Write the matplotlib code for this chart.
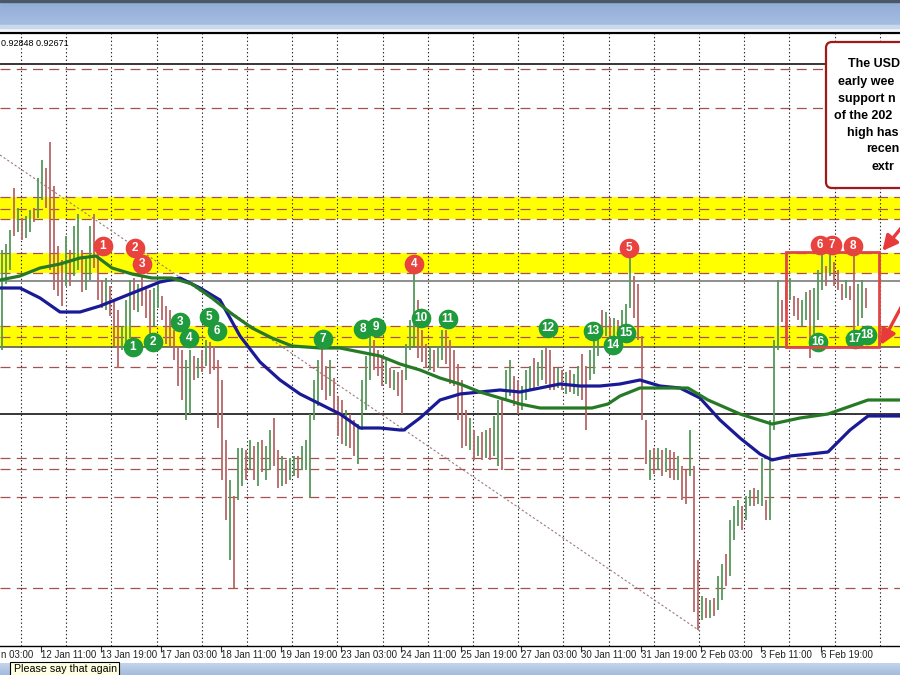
import numpy as np
import matplotlib.pyplot as plt
from matplotlib import transforms
from matplotlib.patches import Rectangle, FancyBboxPatch, FancyArrowPatch

plt.rcParams['font.family'] = ['Liberation Sans', 'DejaVu Sans']

# ---------------------------------------------------------------------------
# Hourly bars (pips); one entry per drawn bar
# ---------------------------------------------------------------------------
bar_high = [
    9295, 9298, 9305, 9326, 9316, 9311, 9312, 9315, 9316, 9331,
    9340, 9336, 9349, 9327, 9297, 9290, 9302, 9295, 9307, 9313,
    9295, 9292, 9307, 9313, 9295, 9280, 9281, 9277, 9270, 9265,
    9257, 9270, 9280, 9281, 9278, 9282, 9277, 9275, 9276, 9278,
    9272, 9267, 9265, 9255, 9247, 9245, 9240, 9245, 9242, 9241,
    9245, 9250, 9249, 9247, 9240, 9230, 9200, 9180, 9172, 9196,
    9196, 9195, 9200, 9197, 9199, 9200, 9197, 9205, 9211, 9195,
    9192, 9190, 9191, 9192, 9192, 9197, 9200, 9213, 9230, 9240,
    9246, 9237, 9240, 9231, 9222, 9220, 9215, 9213, 9210, 9208,
    9230, 9242, 9253, 9250, 9245, 9241, 9240, 9236, 9235, 9234,
    9235, 9248, 9260, 9283, 9270, 9255, 9248, 9246, 9245, 9247,
    9255, 9255, 9250, 9245, 9238, 9230, 9215, 9211, 9205, 9202,
    9204, 9205, 9206, 9212, 9220, 9221, 9235, 9240, 9232, 9230,
    9227, 9235, 9237, 9241, 9239, 9245, 9246, 9245, 9236, 9236,
    9235, 9234, 9235, 9233, 9237, 9243, 9237, 9245, 9251, 9257,
    9265, 9264, 9261, 9261, 9260, 9265, 9268, 9293, 9282, 9278,
    9252, 9210, 9195, 9196, 9196, 9195, 9196, 9195, 9194, 9192,
    9187, 9185, 9205, 9187, 9140, 9122, 9121, 9120, 9121, 9132,
    9138, 9143, 9160, 9167, 9170, 9167, 9172, 9175, 9176, 9175,
    9191, 9170, 9210, 9250, 9280, 9270, 9277, 9281, 9272, 9271,
    9270, 9274, 9275, 9276, 9285, 9296, 9287, 9293, 9289, 9285,
    9278, 9280, 9277, 9296, 9278, 9280, 9276,
]
bar_low = [
    9245, 9278, 9285, 9302, 9304, 9300, 9301, 9304, 9309, 9311,
    9320, 9316, 9285, 9275, 9272, 9267, 9277, 9277, 9282, 9285,
    9274, 9275, 9280, 9286, 9270, 9266, 9265, 9262, 9247, 9236,
    9245, 9247, 9251, 9265, 9264, 9267, 9261, 9252, 9257, 9266,
    9260, 9248, 9247, 9240, 9227, 9220, 9210, 9213, 9230, 9231,
    9234, 9237, 9233, 9235, 9206, 9180, 9160, 9140, 9126, 9170,
    9177, 9180, 9185, 9180, 9177, 9184, 9180, 9185, 9187, 9176,
    9177, 9178, 9180, 9182, 9181, 9185, 9185, 9171, 9210, 9217,
    9225, 9220, 9222, 9215, 9202, 9198, 9197, 9196, 9192, 9188,
    9205, 9215, 9230, 9235, 9232, 9227, 9228, 9226, 9225, 9222,
    9213, 9230, 9245, 9247, 9241, 9239, 9236, 9235, 9234, 9236,
    9240, 9238, 9228, 9227, 9210, 9196, 9197, 9195, 9190, 9192,
    9190, 9191, 9190, 9192, 9187, 9185, 9220, 9222, 9217, 9213,
    9215, 9220, 9225, 9226, 9227, 9230, 9228, 9225, 9225, 9226,
    9225, 9223, 9224, 9223, 9222, 9220, 9205, 9230, 9233, 9242,
    9253, 9252, 9250, 9250, 9249, 9255, 9256, 9266, 9261, 9250,
    9210, 9188, 9180, 9183, 9185, 9182, 9184, 9181, 9180, 9180,
    9170, 9168, 9182, 9114, 9105, 9110, 9111, 9111, 9112, 9115,
    9120, 9127, 9132, 9150, 9157, 9155, 9160, 9167, 9167, 9168,
    9167, 9160, 9160, 9205, 9245, 9259, 9265, 9270, 9262, 9260,
    9257, 9260, 9241, 9253, 9260, 9275, 9277, 9282, 9277, 9275,
    9270, 9271, 9270, 9253, 9257, 9261, 9266,
]
# u = up bar (green), d = down bar (red)
bar_dir = ("uuududuudu uddddduduu duuddduddd uuududdduu dddddduudu "
           "dudddddudu udududuudd uduuduuuuu dduddduddu uuudddudud "
           "duuudddudu uddddddudu duduuduudd uuuduudddu duduudduuu "
           "dududuuudd ddudududdu dduddududu uduuuduudu uduuuddudd "
           "uuduuududd dudduud").replace(" ", "")

# moving averages (blue = 100 bar, green = 200 bar), pips
ma100_x = [0, 5, 10, 15, 20, 25, 30, 35, 40, 45, 50, 55, 60, 65, 70, 75,
           80, 85, 90, 95, 100, 101, 105, 110, 115, 120, 125, 130, 135, 140,
           145, 150, 155, 160, 165, 170, 175, 180, 185, 190, 193, 197.5,
           202.5, 207, 212.5, 217, 225]
ma100_v = [9276, 9276, 9271, 9264, 9264, 9267, 9271, 9275, 9279, 9281,
           9276, 9270, 9252, 9239, 9230, 9223, 9218, 9213, 9206, 9206,
           9205, 9205, 9211, 9220, 9223, 9224, 9225, 9224, 9226, 9228,
           9227, 9227, 9228, 9230, 9227, 9226, 9221, 9210, 9201, 9193,
           9190, 9192, 9193, 9194, 9205, 9212, 9212]
ma200_x = [0, 5, 10, 15, 20, 24, 28, 33, 38, 43, 48, 53, 58, 63, 68, 73,
           80, 85, 90, 95, 100, 105, 110, 115, 120, 125, 130, 135, 140, 145,
           148, 152, 155, 160, 165, 172, 177, 185, 193, 200, 207, 217, 225]
ma200_v = [9280, 9282, 9286, 9288, 9291, 9292, 9286, 9283, 9281, 9281,
           9278, 9271, 9263, 9256, 9251, 9247, 9246, 9246, 9244, 9242,
           9238, 9235, 9231, 9228, 9224, 9221, 9218, 9216, 9216, 9216,
           9216, 9218, 9222, 9226, 9226, 9226, 9220, 9213, 9208, 9211,
           9213, 9220, 9220]

# horizontal levels (pips)
yellow_bands = [(9310.5, 9321.5), (9283.5, 9293.5), (9246.5, 9257)]
dashed_levels = [9385.5, 9366, 9321.5, 9315.5, 9310.5, 9293.5, 9283.5,
                 9257, 9251.5, 9236.5, 9191, 9185.5, 9171.5, 9126]
solid_levels = [(9388, "black"), (9279.5, "#707070"), (9246.5, "#505050"),
                (9213, "black")]
trend_x = [0, 175]
trend_v = [9342.5, 9104.5]

# numbered highs (red) and lows (green)
red_x = [25.75, 33.75, 35.5, 103.5, 157.25, 205, 208, 213.25]
red_v = [9297, 9296, 9288, 9288, 9296, 9297.5, 9297.5, 9297]
green_x = [33.25, 38.25, 45, 47.25, 52.25, 54.25, 80.75, 90.75, 94, 105.25,
           112, 137, 148.25, 153.25, 156.5, 204.5, 213.75, 216.75]
green_v = [9246.5, 9249, 9259, 9251, 9261.5, 9254.5, 9250.5, 9255.5, 9256.5,
           9261, 9260.5, 9256, 9254.5, 9247.5, 9253.5, 9249, 9250.5, 9252.5]

# first label is cut by the left edge of the screenshot
time_labels = ["n 03:00", "12 Jan 11:00", "13 Jan 19:00", "17 Jan 03:00",
               "18 Jan 11:00", "19 Jan 19:00", "23 Jan 03:00", "24 Jan 11:00",
               "25 Jan 19:00", "27 Jan 03:00", "30 Jan 11:00", "31 Jan 19:00",
               "2 Feb 03:00", "3 Feb 11:00", "6 Feb 19:00"]

# the commentary box runs off the right edge of the screenshot
note_lines = ["The USD", "early wee", "support n", "of the 202",
              "high has", "recen", "extr"]

# ---------------------------------------------------------------------------
W, H = 900, 675
P = 1e4  # pips -> price
fig = plt.figure(figsize=(W / 100, H / 100), dpi=100)
fig.patch.set_facecolor("white")
PX = transforms.Affine2D().scale(1, -1).translate(0, H)  # top-left pixel coords

ax = fig.add_axes([0, 1 - 646 / H, 1, (646 - 33) / H])
ax.set_facecolor("white")
for s in ("left", "right"):
    ax.spines[s].set_visible(False)
ax.spines["top"].set_linewidth(1.6)
ax.spines["bottom"].set_linewidth(1.0)
ax.set_yticks([])

# bands and levels
for lo, hi in yellow_bands:
    ax.axhspan(lo / P, hi / P, color="#ffff00", lw=0, zorder=0)
for lv in dashed_levels:
    ax.axhline(lv / P, color="#a85050", lw=0.9, ls=(0, (8, 5)), zorder=1)
for lv, c in solid_levels:
    ax.axhline(lv / P, color=c, lw=1.1, zorder=1)

# dotted vertical grid
for k in range(20):
    ax.axvline((21 + 45.2 * k) / 4, color="#222222", lw=0.8,
               ls=(0, (1.2, 2.2)), zorder=1)

ax.plot(np.array(trend_x), np.array(trend_v) / P, color="#9a7a7a", lw=0.8,
        ls=(0, (2, 2)), zorder=2)

# bars
n = min(len(bar_high), len(bar_low), len(bar_dir))
xs = np.arange(n) + 0.5
cols = ["#55985a" if d == "u" else "#b86666" for d in bar_dir[:n]]
ax.vlines(xs, np.array(bar_low[:n]) / P, np.array(bar_high[:n]) / P,
          colors=cols, lw=1.3, zorder=3)

# moving averages
ax.plot(ma100_x, np.array(ma100_v) / P, color="#1a1a96", lw=2.3, zorder=4,
        solid_capstyle="round")
ax.plot(ma200_x, np.array(ma200_v) / P, color="#267a26", lw=2.3, zorder=4,
        solid_capstyle="round")

# numbered markers
for xs_, vs_, c in ((green_x, green_v, "#1f9a3c"), (red_x, red_v, "#e8433e")):
    ax.scatter(xs_, np.array(vs_) / P, s=200, color=c, zorder=6, lw=0)
    for i, (x, v) in enumerate(zip(xs_, vs_)):
        ax.text(x, v / P, str(i + 1), color="white", fontsize=8.5,
                fontweight="bold", ha="center", va="center", zorder=7)

# range box and arrows
ax.add_patch(Rectangle((196.5, 9246.5 / P), 23.25, 47.5 / P, fill=False,
                       ec="#e04646", lw=2.0, zorder=8))
for (x0, v0), (x1, v1) in (((226.5, 9309), (220.6, 9294.5)),
                           ((226.5, 9271), (220.2, 9247.5))):
    ax.add_patch(FancyArrowPatch((x0, v0 / P), (x1, v1 / P),
                                 arrowstyle="-|>,head_length=9,head_width=4.5",
                                 color="#e83a3a", lw=2.4, zorder=9,
                                 shrinkA=0, shrinkB=0))

# time axis
tick_x = [-4.75 + 15 * i for i in range(len(time_labels))]
ax.set_xticks(tick_x)
ax.set_xticklabels([])
ax.tick_params(axis="x", length=4, width=0.8, color="#333333", direction="out")
for i, (x, lab) in enumerate(zip(tick_x, time_labels)):
    ax.text(max(x, 0.2), -0.0147, lab, transform=ax.get_xaxis_transform(),
            ha="left", va="center", fontsize=7, color="#222222", clip_on=False)

# limits last: set_xticks would otherwise widen the view
ax.set_xlim(0, 225)
ax.set_ylim(9097 / P, 9403.5 / P)

# header strip
hax = fig.add_axes([0, 1 - 31 / H, 1, 31 / H])
grad = np.linspace(0, 1, 64)[:, None]
c_top = np.array([0x90, 0xab, 0xd6]) / 255
c_bot = np.array([0xac, 0xc2, 0xe4]) / 255
img = c_top[None, None, :] * (1 - grad[..., None]) + c_bot[None, None, :] * grad[..., None]
hax.imshow(img, aspect="auto", extent=(0, 1, 0, 1))
hax.axhspan(0.93, 1.0, color="#4a5866")
hax.axhspan(0.0, 0.1, color="#f2f5fa")
hax.axhspan(0.1, 0.2, color="#cad8ec")
hax.set_xlim(0, 1)
hax.set_ylim(0, 1)
hax.axis("off")

# footer strip
fax = fig.add_axes([0, 0, 1, 12 / H])
grad2 = np.linspace(0, 1, 32)[:, None]
img2 = (np.array([0xc4, 0xd4, 0xec]) / 255)[None, None, :] * (1 - grad2[..., None]) + \
       (np.array([0xa4, 0xbc, 0xde]) / 255)[None, None, :] * grad2[..., None]
fax.imshow(img2, aspect="auto", extent=(0, 1, 0, 1))
fax.axis("off")

fig.patches.append(Rectangle((10, 662), 109, 16, transform=PX, fc="#ffffe1",
                             ec="black", lw=0.8, zorder=10, figure=fig))
fig.text(14 / W, 1 - 669.5 / H, "Please say that again", fontsize=7.7,
         va="center", ha="left", zorder=11)

fig.text(1 / W, 1 - 43 / H, "0.92848 0.92671", fontsize=6.5, va="center",
         ha="left", zorder=11)

# commentary box
fig.patches.append(FancyBboxPatch((826, 42), 84, 146, transform=PX,
                                  boxstyle="round,pad=0,rounding_size=6",
                                  fc="white", ec="#a01818", lw=1.6, zorder=10,
                                  figure=fig))
note_pos = [(848, 64), (838, 82), (838, 99), (834, 116), (847, 133),
            (866, 149), (871, 167)]
for (px, py), line in zip(note_pos, note_lines):
    fig.text(px / W, 1 - py / H, line, fontsize=9, fontweight="bold",
             va="center", ha="left", zorder=11)

fig.savefig("out.png", dpi=100)
